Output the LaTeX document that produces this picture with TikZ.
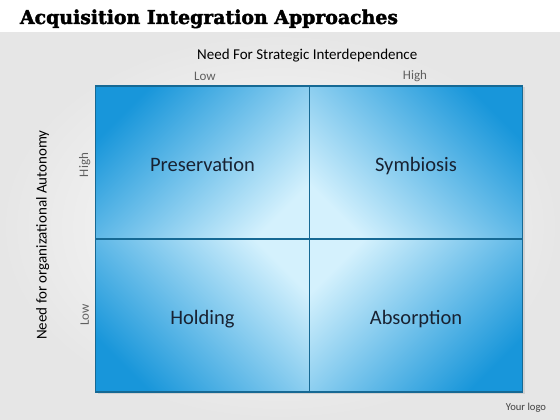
\documentclass[tikz,border=0pt]{standalone}
\usepackage{fontspec}
\setmainfont{Carlito}
\newfontfamily\titlefont[BoldFeatures={FakeBold=2}]{DejaVu Serif}
\usepackage{graphicx}
\usetikzlibrary{calc}
\definecolor{gridblue}{RGB}{24,150,218}
\definecolor{gridlight}{RGB}{212,241,253}
\definecolor{gridline}{RGB}{22,105,148}
\definecolor{celltext}{RGB}{24,34,50}
\definecolor{axisgray}{RGB}{95,95,95}
\definecolor{pagegray}{RGB}{230,230,230}

\begin{document}
\begin{tikzpicture}[
  x=1pt, y=1pt,
  every node/.style={inner sep=0pt, outer sep=0pt},
  cell/.style={rectangle, draw=gridline, line width=1.3pt,
      minimum width=213.5pt, minimum height=153pt, align=center,
      text height=18pt, text depth=0pt,
      font=\fontsize{20.5}{24}\selectfont, text=celltext},
  axislabel/.style={font=\fontsize{15}{18}\selectfont, text=black},
  levellabel/.style={font=\fontsize{13}{15}\selectfont, text=axisgray}
]
\useasboundingbox (0,0) rectangle (560,420);
% page background (white band, grey glow below)
\fill[white] (0,0) rectangle (560,420);
\shade[inner color=white, outer color=pagegray] (0,0) rectangle (560,387);

% title
\node[anchor=base west, text=black] (title) at (20,396)
      {\resizebox{378pt}{14.5pt}{\titlefont\bfseries Acquisition Integration Approaches}};

% soft shadow under the grid
\fill[black!18] (97.5,26) rectangle (525,332.5);

% the four quadrants
\node[cell, top color=gridblue, bottom color=gridlight, shading angle=45]
      (tl) at (202.5,257.5) {Preservation};
\node[cell, top color=gridblue, bottom color=gridlight, shading angle=-45]
      (tr) at (416,257.5) {Symbiosis};
\node[cell, top color=gridlight, bottom color=gridblue, shading angle=-45]
      (bl) at (202.5,104.5) {Holding};
\node[cell, top color=gridlight, bottom color=gridblue, shading angle=45]
      (br) at (416,104.5) {Absorption};

% axis captions
\node[axislabel] (xaxis) at ($(tl.north east)+(-2,30)$) {Need For Strategic Interdependence};
\node[levellabel] (xlow) at ($(tl.north)+(2.5,10)$) {Low};
\node[levellabel] (xhigh) at ($(tr.north)+(-1,10)$) {High};
\node[axislabel, rotate=90] (yaxis) at ($(tl.south west)+(-53,4)$) {Need for organizational Autonomy};
\node[levellabel, rotate=90] (yhigh) at ($(tl.west)+(-11,-2.5)$) {High};
\node[levellabel, rotate=90] (ylow) at ($(bl.west)+(-11,0.5)$) {Low};

% logo placeholder
\node[font=\fontsize{10.6}{12}\selectfont, text=black!75] (logo) at (526,12) {Your logo};
\end{tikzpicture}
\end{document}
